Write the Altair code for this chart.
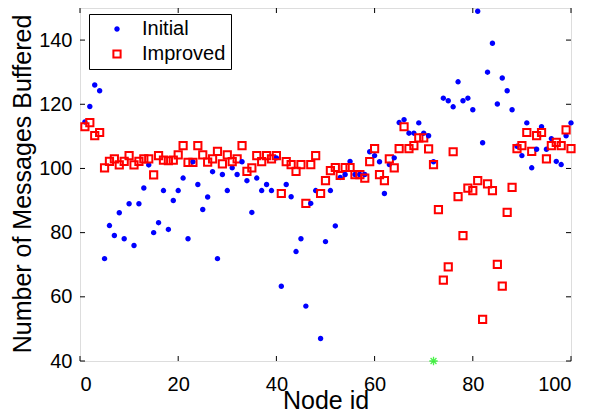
import altair as alt
import pandas as pd
import numpy as np

node_ids = list(range(1, 101))

initial = [
    114.5, 119.3, 126.0, 124.2, 71.9, 82.2, 79.1, 86.2, 78.1, 89.0,
    76.0, 89.0, 93.9, 101.1, 80.0, 83.1, 93.1, 81.0, 90.0, 93.1,
    97.0, 78.1, 102.1, 95.0, 87.2, 91.1, 99.0, 71.9, 98.1, 93.1,
    100.2, 98.1, 102.1, 96.2, 86.3, 97.0, 93.1, 95.0, 93.1, 103.3,
    63.3, 95.0, 91.2, 74.1, 78.1, 57.1, 89.1, 93.1, 47.0, 77.2,
    93.1, 82.1, 97.2, 98.1, 102.2, 98.1, 98.1, 98.1, 105.2, 104.0,
    102.1, 92.2, 101.2, 103.3, 114.3, 115.2, 111.0, 111.0, 114.2, 111.0,
    110.2, 102.1, np.nan, 121.9, 121.1, 119.2, 127.0, 121.1, 121.9, 118.3,
    149.0, 108.0, 130.0, 139.0, 120.1, 128.2, 124.2, 118.3, 106.9, 104.0,
    114.2, 100.2, 106.0, 113.0, 106.0, 109.3, 102.2, 101.2, 110.2, 114.2,
]

improved = [
    113.0, 114.3, 110.2, 111.2, 100.2, 102.2, 103.0, 101.1, 102.2, 104.0,
    101.1, 102.2, 103.0, 103.0, 98.0, 104.0, 102.6, 102.4, 102.6, 104.2,
    107.1, 101.9, 101.9, 107.1, 104.2, 102.0, 103.0, 105.3, 101.4, 104.2,
    102.1, 103.0, 107.1, 99.1, 100.2, 104.0, 102.1, 104.0, 103.0, 104.0,
    92.2, 102.1, 101.2, 99.1, 101.2, 89.1, 101.2, 104.0, 92.2, 96.2,
    99.3, 100.3, 97.8, 100.3, 100.3, 98.1, 98.1, 97.0, 102.1, 106.2,
    98.1, 96.2, 103.0, 100.2, 106.2, 113.0, 106.2, 107.1, 109.5, 109.5,
    106.1, 101.2, 87.2, 65.2, 69.3, 105.2, 91.2, 79.1, 93.9, 93.1,
    96.2, 53.0, 95.2, 93.1, 70.1, 63.3, 86.3, 94.1, 106.2, 107.1,
    111.2, 105.3, 110.2, 111.2, 103.0, 107.1, 108.1, 107.1, 112.0, 106.2,
]

sink_node = [72]
sink_value = [40]

x_ticks = [0, 20, 40, 60, 80, 100]
y_ticks = [40, 60, 80, 100, 120, 140]
series_order = ["Initial", "Improved"]

W, H = 491, 353
FONT = "Liberation Sans"

rows = []
for i, a, b in zip(node_ids, initial, improved):
    if not np.isnan(a):
        rows.append({"node": i, "value": a, "series": "Initial"})
    rows.append({"node": i, "value": b, "series": "Improved"})
df = pd.DataFrame(rows)

xscale = alt.Scale(domain=[0, 100], nice=False, zero=False)
yscale = alt.Scale(domain=[40, 150], nice=False, zero=False)

x_axis = alt.Axis(values=x_ticks, ticks=False, domain=False, grid=False,
                  labelFontSize=20, labelFont=FONT, labelColor="black",
                  labelPadding=13, title="Node id", titleFontSize=25,
                  titleFont=FONT, titleFontWeight="normal", titleColor="black",
                  titleY=39, titleBaseline="middle")
y_axis = alt.Axis(values=y_ticks, ticks=False, domain=False, grid=False,
                  labelFontSize=20, labelFont=FONT, labelColor="black",
                  labelPadding=8, title="Number of Messages Buffered",
                  titleFontSize=25, titleFont=FONT, titleFontWeight="normal",
                  titleColor="black", titleX=-58, titleY=H / 2 - 1,
                  titleBaseline="middle", titleAlign="center")

points = alt.Chart(df).mark_point(strokeWidth=2, opacity=1).encode(
    x=alt.X("node:Q", scale=xscale, axis=x_axis, title="Node id"),
    y=alt.Y("value:Q", scale=yscale, axis=y_axis, title="Number of Messages Buffered"),
    color=alt.Color("series:N", scale=alt.Scale(domain=series_order, range=["#0000ff", "#ff0000"]),
                    legend=alt.Legend(title=None, orient="none", legendX=9, legendY=6,
                                      padding=5, symbolOffset=13, labelOffset=15,
                                      labelFontSize=20, labelFont=FONT, labelColor="black",
                                      strokeColor="black", fillColor="white",
                                      symbolStrokeWidth=2, rowPadding=5, cornerRadius=0)),
    fill=alt.Fill("series:N", scale=alt.Scale(domain=series_order, range=["#0000ff", "transparent"])),
    shape=alt.Shape("series:N", scale=alt.Scale(domain=series_order, range=["circle", "square"])),
    size=alt.Size("series:N", scale=alt.Scale(domain=series_order, range=[12, 52])),
)

sink = alt.Chart(pd.DataFrame({"node": sink_node, "value": sink_value})).mark_point(
    shape="M-1,0L1,0M0,-1L0,1M-0.7,-0.7L0.7,0.7M-0.7,0.7L0.7,-0.7",
    color="#00ee00", strokeWidth=1.3, size=70, clip=False, filled=False
).encode(x=alt.X("node:Q", scale=xscale, axis=x_axis, title="Node id"),
         y=alt.Y("value:Q", scale=yscale, axis=y_axis, title="Number of Messages Buffered"))

xt = pd.DataFrame({"node": x_ticks})
yt = pd.DataFrame({"value": y_ticks})
tick_style = dict(color="black", strokeWidth=1)
bottom_ticks = alt.Chart(xt).mark_rule(**tick_style).encode(
    x=alt.X("node:Q", scale=xscale, axis=x_axis, title="Node id"), y=alt.value(H), y2=alt.value(H - 5))
top_ticks = alt.Chart(xt).mark_rule(**tick_style).encode(
    x=alt.X("node:Q", scale=xscale, axis=x_axis, title="Node id"), y=alt.value(0), y2=alt.value(5))
left_ticks = alt.Chart(yt).mark_rule(**tick_style).encode(
    y=alt.Y("value:Q", scale=yscale, axis=y_axis, title="Number of Messages Buffered"),
    x=alt.value(0), x2=alt.value(5))
right_ticks = alt.Chart(yt).mark_rule(**tick_style).encode(
    y=alt.Y("value:Q", scale=yscale, axis=y_axis, title="Number of Messages Buffered"),
    x=alt.value(W), x2=alt.value(W - 5))

chart = alt.layer(points, sink, bottom_ticks, top_ticks, left_ticks, right_ticks).properties(
    width=W, height=H,
    padding={"left": 72, "top": 0, "right": 18, "bottom": 52},
    autosize=alt.AutoSizeParams(type="none"),
).configure_view(stroke="black", strokeWidth=1).configure(background="white")

chart.save("out.html", embed_options={"renderer": "svg", "actions": False})
